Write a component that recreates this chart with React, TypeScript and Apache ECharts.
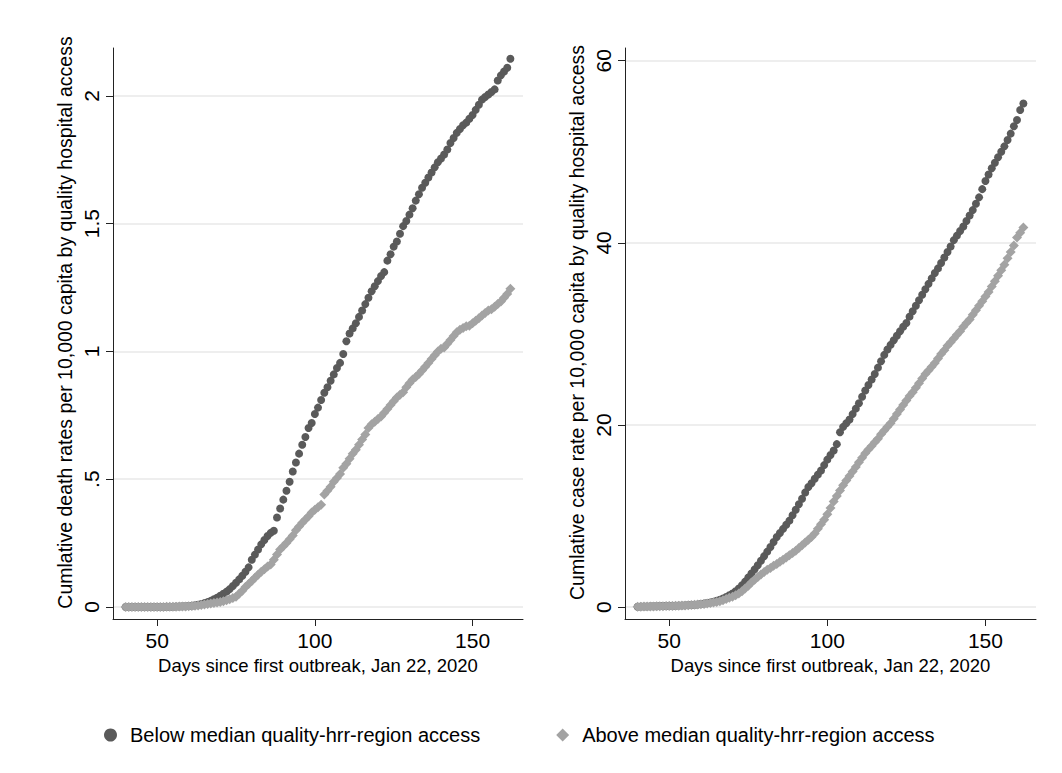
import React, { useEffect, useRef } from "react";
import * as echarts from "echarts";

// Days since first outbreak (Jan 22, 2020): 40..162
const days: number[] = [
  40, 41, 42, 43, 44, 45, 46, 47, 48, 49, 50, 51, 52, 53, 54, 55, 56, 57, 58, 59,
  60, 61, 62, 63, 64, 65, 66, 67, 68, 69, 70, 71, 72, 73, 74, 75, 76, 77, 78, 79,
  80, 81, 82, 83, 84, 85, 86, 87, 88, 89, 90, 91, 92, 93, 94, 95, 96, 97, 98, 99,
  100, 101, 102, 103, 104, 105, 106, 107, 108, 109, 110, 111, 112, 113, 114, 115, 116, 117, 118, 119,
  120, 121, 122, 123, 124, 125, 126, 127, 128, 129, 130, 131, 132, 133, 134, 135, 136, 137, 138, 139,
  140, 141, 142, 143, 144, 145, 146, 147, 148, 149, 150, 151, 152, 153, 154, 155, 156, 157, 158, 159,
  160, 161, 162,
];

// Cumulative death rate per 10,000 — below median access
const deathBelow: number[] = [
  0, 0, 0, 0, 0, 0, 0, 0, 0, 0, 0, 0, 0, 0.001, 0.001, 0.001, 0.002, 0.002, 0.003, 0.003,
  0.004, 0.005, 0.007, 0.009, 0.012, 0.015, 0.019, 0.024, 0.03, 0.036, 0.044, 0.052, 0.06, 0.07, 0.082, 0.095, 0.108, 0.122, 0.138, 0.155,
  0.185, 0.205, 0.225, 0.245, 0.262, 0.278, 0.29, 0.298, 0.35, 0.385, 0.42, 0.455, 0.49, 0.53, 0.565, 0.6, 0.635, 0.665, 0.7, 0.72,
  0.755, 0.78, 0.81, 0.838, 0.86, 0.885, 0.91, 0.935, 0.955, 0.99, 1.04, 1.07, 1.09, 1.11, 1.135, 1.16, 1.185, 1.21, 1.235, 1.255,
  1.275, 1.295, 1.31, 1.355, 1.38, 1.41, 1.43, 1.46, 1.49, 1.51, 1.535, 1.56, 1.59, 1.615, 1.64, 1.66, 1.68, 1.7, 1.72, 1.74,
  1.755, 1.77, 1.79, 1.815, 1.835, 1.855, 1.87, 1.885, 1.895, 1.91, 1.925, 1.945, 1.965, 1.985, 1.995, 2.005, 2.015, 2.025, 2.06, 2.08,
  2.095, 2.11, 2.145,
];

// Cumulative death rate per 10,000 — above median access
const deathAbove: number[] = [
  0, 0, 0, 0, 0, 0, 0, 0, 0, 0, 0, 0, 0, 0.001, 0.001, 0.001, 0.001, 0.002, 0.002, 0.002,
  0.003, 0.004, 0.005, 0.006, 0.008, 0.01, 0.012, 0.014, 0.016, 0.018, 0.02, 0.022, 0.026, 0.03, 0.035, 0.04, 0.052, 0.064, 0.078, 0.09,
  0.102, 0.114, 0.126, 0.138, 0.148, 0.158, 0.166, 0.185, 0.205, 0.225, 0.238, 0.25, 0.265, 0.28, 0.3, 0.315, 0.33, 0.342, 0.355, 0.37,
  0.38, 0.39, 0.4, 0.44, 0.455, 0.47, 0.49, 0.505, 0.52, 0.545, 0.56, 0.58, 0.6, 0.615, 0.635, 0.655, 0.675, 0.7, 0.715, 0.725,
  0.735, 0.745, 0.76, 0.775, 0.79, 0.805, 0.82, 0.83, 0.84, 0.86, 0.875, 0.89, 0.9, 0.912, 0.925, 0.94, 0.955, 0.97, 0.985, 1.0,
  1.01, 1.015, 1.03, 1.045, 1.06, 1.075, 1.085, 1.092, 1.098, 1.1, 1.11, 1.12, 1.13, 1.14, 1.15, 1.16, 1.165, 1.175, 1.185, 1.195,
  1.21, 1.225, 1.245,
];

// Cumulative case rate per 10,000 — below median access
const caseBelow: number[] = [
  0.05, 0.06, 0.07, 0.08, 0.09, 0.1, 0.1, 0.11, 0.12, 0.13, 0.14, 0.15, 0.16, 0.17, 0.18, 0.2, 0.22, 0.24, 0.27, 0.3,
  0.34, 0.39, 0.45, 0.52, 0.6, 0.7, 0.82, 0.96, 1.12, 1.3, 1.5, 1.75, 2.05, 2.4, 2.8, 3.25, 3.7, 4.15, 4.6, 5.1,
  5.6, 6.1, 6.6, 7.15, 7.7, 8.15, 8.6, 9.05, 9.5, 10.1, 10.7, 11.3, 11.9, 12.6, 13.2, 13.6, 14.1, 14.55, 15.0, 15.6,
  16.2, 16.7, 17.2, 17.9, 19.2, 19.8, 20.2, 20.6, 21.2, 21.8, 22.4, 23.1, 23.8, 24.4, 25.0, 25.6, 26.3, 27.0, 27.7, 28.3,
  28.8, 29.3, 29.8, 30.3, 30.8, 31.2, 31.9, 32.5, 33.1, 33.7, 34.3, 34.9, 35.5, 36.1, 36.7, 37.2, 37.8, 38.4, 39.0, 39.6,
  40.3, 40.8, 41.3, 41.8, 42.4, 43.0, 43.6, 44.3, 45.0, 45.9, 46.8, 47.5, 48.2, 48.8, 49.4, 50.0, 50.6, 51.3, 52.0, 52.8,
  53.5, 54.6, 55.3,
];

// Cumulative case rate per 10,000 — above median access
const caseAbove: number[] = [
  0.05, 0.05, 0.06, 0.07, 0.08, 0.08, 0.09, 0.1, 0.11, 0.12, 0.13, 0.14, 0.15, 0.16, 0.17, 0.19, 0.21, 0.23, 0.26, 0.29,
  0.32, 0.36, 0.4, 0.45, 0.5, 0.56, 0.65, 0.77, 0.9, 1.02, 1.15, 1.3, 1.5, 1.75, 2.05, 2.35, 2.7, 3.0, 3.3, 3.6,
  3.85, 4.1, 4.3, 4.55, 4.75, 5.0, 5.2, 5.45, 5.7, 5.95, 6.2, 6.5, 6.8, 7.1, 7.4, 7.7, 8.1, 8.6, 9.1, 9.6,
  10.2, 10.9, 11.6, 12.2, 12.8, 13.4, 13.9, 14.4, 14.9, 15.4, 15.9, 16.4, 16.9, 17.3, 17.7, 18.1, 18.5, 19.0, 19.4, 19.8,
  20.2, 20.7, 21.2, 21.7, 22.2, 22.7, 23.2, 23.6, 24.1, 24.6, 25.1, 25.6, 26.0, 26.4, 26.8, 27.3, 27.8, 28.2, 28.7, 29.1,
  29.5, 29.9, 30.3, 30.8, 31.2, 31.6, 32.1, 32.6, 33.1, 33.6, 34.1, 34.6, 35.2, 35.8, 36.4, 37.0, 37.6, 38.3, 39.0, 39.7,
  40.6, 41.1, 41.7,
];

const xTicks: number[] = [50, 100, 150];
const deathTicks: number[] = [0, 0.5, 1, 1.5, 2];
const caseTicks: number[] = [0, 20, 40, 60];

const BELOW = "Below median quality-hrr-region access";
const ABOVE = "Above median quality-hrr-region access";
const DARK = "#5a5a5a";
const LIGHT = "#a3a3a3";
const FONT = "'Liberation Sans', Arial, Helvetica, sans-serif";

const pairs = (ys: number[]) => days.map((d, i) => [d, ys[i]]);

export default function App() {
  const ref = useRef<HTMLDivElement>(null);
  useEffect(() => {
    if (!ref.current) return;
    const chart = echarts.init(ref.current, undefined, { renderer: "svg" });

    const xAxisBase = (gridIndex: number) => ({
      type: "value",
      gridIndex,
      min: 36,
      max: 166,
      name: "Days since first outbreak, Jan 22, 2020",
      nameLocation: "middle",
      nameGap: 36,
      nameTextStyle: { fontFamily: FONT, fontSize: 18.5, color: "#000" },
      axisLine: { show: true, onZero: false, lineStyle: { color: "#222", width: 1 } },
      axisTick: { show: true, length: 7, customValues: xTicks, lineStyle: { color: "#222" } },
      axisLabel: { customValues: xTicks, margin: 11, fontFamily: FONT, fontSize: 21, color: "#000" },
      splitLine: { show: false },
    });

    const yAxisBase = (gridIndex: number, min: number, max: number, ticks: number[], name: string) => ({
      type: "value",
      gridIndex,
      min,
      max,
      name,
      nameLocation: "middle",
      nameRotate: 90,
      nameGap: 38,
      nameTextStyle: { fontFamily: FONT, fontSize: 19.5, color: "#000", padding: [0, 0, 0, 22] },
      axisLine: { show: true, onZero: false, lineStyle: { color: "#222", width: 1 } },
      axisTick: { show: true, length: 7, customValues: ticks, lineStyle: { color: "#222" } },
      axisLabel: {
        customValues: ticks,
        rotate: 90,
        margin: 11,
        fontFamily: FONT,
        fontSize: 21,
        color: "#000",
        formatter: (v: number) => (v === 0.5 ? ".5" : String(v)),
      },
      splitLine: { show: true, lineStyle: { color: "#e8e8e8", width: 1.5 } },
    });

    const sc = (name: string, xi: number, ys: number[], dark: boolean) => ({
      type: "scatter",
      name,
      xAxisIndex: xi,
      yAxisIndex: xi,
      data: pairs(ys),
      symbol: dark ? "circle" : "diamond",
      symbolSize: dark ? 8 : 10,
      itemStyle: { color: dark ? DARK : LIGHT, opacity: 1 },
      z: dark ? 2 : 3,
    });

    chart.setOption({
      animation: false,
      backgroundColor: "#fff",
      grid: [
        { left: 113, right: 539, top: 48, bottom: 154, containLabel: false },
        { left: 625, right: 26, top: 48, bottom: 154, containLabel: false },
      ],
      xAxis: [xAxisBase(0), xAxisBase(1)],
      yAxis: [
        yAxisBase(0, -0.047, 2.187, deathTicks, "Cumlative death rates per 10,000 capita by quality hospital access"),
        yAxisBase(1, -1.3, 61.4, caseTicks, "Cumlative case rate per 10,000 capita by quality hospital access"),
      ],
      legend: {
        left: 99,
        top: 720,
        itemGap: 76,
        itemWidth: 13,
        itemHeight: 13,
        textStyle: { fontFamily: FONT, fontSize: 20, color: "#000", padding: [0, 0, 0, 8] },
        data: [
          { name: BELOW, icon: "circle", itemStyle: { color: DARK } },
          { name: ABOVE, icon: "diamond", itemStyle: { color: LIGHT } },
        ],
      },
      series: [
        sc(BELOW, 0, deathBelow, true),
        sc(ABOVE, 0, deathAbove, false),
        sc(BELOW, 1, caseBelow, true),
        sc(ABOVE, 1, caseAbove, false),
      ],
    });

    return () => chart.dispose();
  }, []);

  return <div ref={ref} style={{ width: 1062, height: 773, position: "absolute", left: 0, top: 0 }} />;
}
